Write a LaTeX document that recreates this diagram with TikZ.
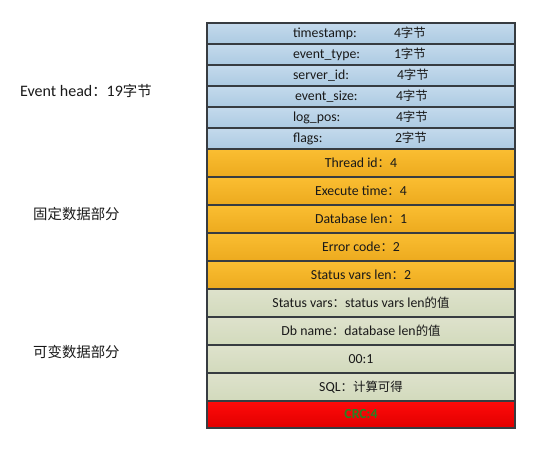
\documentclass[tikz,border=0pt]{standalone}
\usepackage{fontspec}
\setmainfont{Carlito}
\newfontfamily\cjk[Scale=0.9]{Noto Sans CJK SC}
\usetikzlibrary{positioning}

\definecolor{rowline}{RGB}{55, 60, 65}
\definecolor{headtop}{RGB}{196, 218, 236}
\definecolor{headbot}{RGB}{172, 202, 226}
\definecolor{fixtop}{RGB}{250, 190, 50}
\definecolor{fixbot}{RGB}{236, 170, 30}
\definecolor{vartop}{RGB}{222, 226, 204}
\definecolor{varbot}{RGB}{210, 218, 188}
\definecolor{crctop}{RGB}{255, 10, 10}
\definecolor{crcbot}{RGB}{225, 0, 0}
\definecolor{crctext}{RGB}{40, 130, 35}

\newcommand{\zh}[1]{{\cjk #1}}
\newcommand{\headtext}[2]{\makebox[308pt][l]{\hspace{86pt}\makebox[101pt][l]{#1}#2}}

\tikzset{
  row/.style={draw=rowline, line width=1.2pt, rectangle, minimum width=308pt,
    inner sep=0pt, outer sep=0pt, text=black!90,
    font=\fontsize{13.8}{15}\selectfont},
  headrow/.style={row, minimum height=21pt, top color=headtop, bottom color=headbot},
  fixrow/.style={row, minimum height=28pt, top color=fixtop, bottom color=fixbot},
  varrow/.style={row, minimum height=28pt, top color=vartop, bottom color=varbot},
  crcrow/.style={row, minimum height=27pt, top color=crctop, bottom color=crcbot,
    text=crctext, font=\fontsize{13.8}{15}\selectfont\bfseries},
  sidelabel/.style={anchor=west, inner sep=0pt, text=black!90, font=\fontsize{16}{18}\selectfont}
}

\begin{document}
\begin{tikzpicture}[x=1pt, y=-1pt]
  \useasboundingbox (0,0) rectangle (556,448);

  % event head
  \node[headrow, anchor=north west] (h1) at (207,23) {\headtext{timestamp:}{4\zh{字节}}};
  \node[headrow, below=0pt of h1] (h2) {\headtext{event\_type:}{1\zh{字节}}};
  \node[headrow, below=0pt of h2] (h3) {\headtext{server\_id:}{\hspace{3pt}4\zh{字节}}};
  \node[headrow, below=0pt of h3] (h4) {\headtext{\hspace{2pt}event\_size:}{\hspace{2pt}4\zh{字节}}};
  \node[headrow, below=0pt of h4] (h5) {\headtext{log\_pos:}{\hspace{2pt}4\zh{字节}}};
  \node[headrow, below=0pt of h5] (h6) {\headtext{flags:}{\hspace{1pt}2\zh{字节}}};

  % fixed data
  \node[fixrow, below=0pt of h6] (f1) {Thread id\zh{：}4};
  \node[fixrow, below=0pt of f1] (f2) {Execute time\zh{：}4};
  \node[fixrow, below=0pt of f2] (f3) {Database len\zh{：}1};
  \node[fixrow, below=0pt of f3] (f4) {Error code\zh{：}2};
  \node[fixrow, below=0pt of f4] (f5) {Status vars len\zh{：}2};

  % variable data
  \node[varrow, below=0pt of f5] (v1) {Status vars\zh{：}status vars len\zh{的值}};
  \node[varrow, below=0pt of v1] (v2) {Db name\zh{：}database len\zh{的值}};
  \node[varrow, below=0pt of v2] (v3) {00:1};
  \node[varrow, below=0pt of v3] (v4) {SQL\zh{：计算可得}};
  \node[crcrow, below=0pt of v4] (crc) {CRC:4};

  % side labels
  \node[sidelabel] (headlbl) at (20,91) {Event head\zh{：}19\zh{字节}};
  \node[sidelabel] (fixlbl) at (33,214) {\zh{固定数据部分}};
  \node[sidelabel] (varlbl) at (33,352) {\zh{可变数据部分}};
\end{tikzpicture}
\end{document}
